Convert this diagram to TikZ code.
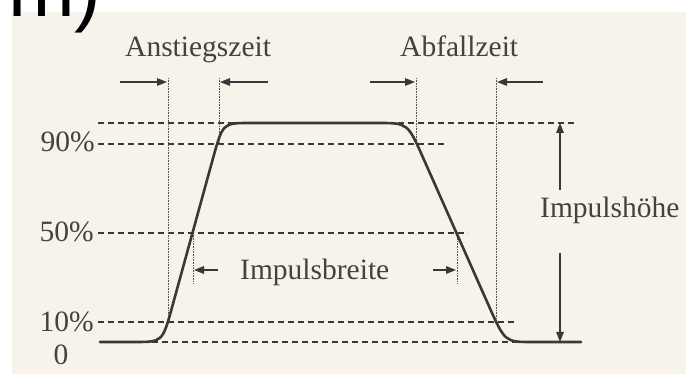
\documentclass[tikz,border=0pt]{standalone}
\usepackage{fontspec}
\setmainfont{Liberation Serif}
\newfontfamily\headfont{Liberation Sans}
\usetikzlibrary{arrows.meta}
\definecolor{paper}{HTML}{F7F3EA}
\definecolor{ink}{HTML}{383838}
\definecolor{txt}{HTML}{424242}
\begin{document}
\begin{tikzpicture}[x=1pt,y=-1pt,
  lbl/.style={inner sep=0pt, text=txt, font=\fontsize{29.5}{30}\selectfont},
  guide/.style={draw=ink, line width=1.1pt, dash pattern=on 6pt off 4pt},
  marker/.style={draw=ink!85, line width=0.8pt, dash pattern=on 0.8pt off 0.8pt},
  pulse/.style={draw=ink, line width=2.6pt, line cap=round, line join=round},
  pointer/.style={draw=ink, line width=1.4pt, -{Triangle[length=10pt,width=7.5pt]}},
]
\clip (0,0) rectangle (686,374);
\fill[white] (0,0) rectangle (686,374);
\fill[paper] (12,12) rectangle (686,374);
\node[anchor=base west, inner sep=0pt, font=\headfont\fontsize{80}{80}\selectfont] (tag) at (8,17) {m)};

% level guide lines
\coordinate (g100a) at (98,123); \coordinate (g100b) at (578,123);
\coordinate (g90a) at (98,144);  \coordinate (g90b) at (447,144);
\coordinate (g50a) at (98,233);  \coordinate (g50b) at (468,233);
\coordinate (g10a) at (98,322);  \coordinate (g10b) at (515,322);
\coordinate (g0a) at (152,342);  \coordinate (g0b) at (520,342);
\draw[guide] (g100a) -- (g100b);
\draw[guide] (g90a) -- (g90b);
\draw[guide] (g50a) -- (g50b);
\draw[guide] (g10a) -- (g10b);
\draw[guide] (g0a) -- (g0b);

% level labels
\node[lbl, anchor=base east] (p90) at (95,152) {90\%};
\node[lbl, anchor=base east] (p50) at (94,242) {50\%};
\node[lbl, anchor=base east] (p10) at (94,331) {10\%};
\node[lbl, anchor=base] (p0) at (61,364) {0};

% vertical markers
\coordinate (a1t) at (168,78); \coordinate (a1b) at (168,322);
\coordinate (a2t) at (219,78); \coordinate (a2b) at (219,144);
\coordinate (b1t) at (416,78); \coordinate (b1b) at (416,144);
\coordinate (b2t) at (496,78); \coordinate (b2b) at (496,322);
\coordinate (w1t) at (193,233); \coordinate (w1b) at (193,283);
\coordinate (w2t) at (457,233); \coordinate (w2b) at (457,283);
\draw[marker] (a1t) -- (a1b);
\draw[marker] (a2t) -- (a2b);
\draw[marker] (b1t) -- (b1b);
\draw[marker] (b2t) -- (b2b);
\draw[marker] (w1t) -- (w1b);
\draw[marker] (w2t) -- (w2b);

% pulse
\draw[pulse] (100,342) -- (135,342) .. controls (162.5,342) .. (172.4,306)
  -- (213.1,158) .. controls (222.8,123) .. (250,123) -- (378,123)
  .. controls (407.7,123) .. (423.2,158) -- (488.9,306)
  .. controls (505,342) .. (532,342) -- (581,342);

% Anstiegszeit
\node[lbl, anchor=base west] (rise) at (125,57) {Anstiegszeit};
\coordinate (r1s) at (120,82); \coordinate (r1e) at (167,82);
\coordinate (r2s) at (268,82); \coordinate (r2e) at (220,82);
\draw[pointer] (r1s) -- (r1e);
\draw[pointer] (r2s) -- (r2e);

% Abfallzeit
\node[lbl, anchor=base west] (fall) at (400,57) {Abfallzeit};
\coordinate (f1s) at (370,82); \coordinate (f1e) at (415,82);
\coordinate (f2s) at (543,82); \coordinate (f2e) at (497,82);
\draw[pointer] (f1s) -- (f1e);
\draw[pointer] (f2s) -- (f2e);

% Impulsbreite
\node[lbl, anchor=base west] (width) at (240,280) {Impulsbreite};
\coordinate (i1s) at (218,270); \coordinate (i1e) at (194,270);
\coordinate (i2s) at (433,270); \coordinate (i2e) at (456,270);
\draw[pointer] (i1s) -- (i1e);
\draw[pointer] (i2s) -- (i2e);

% Impulshoehe
\node[lbl, anchor=base west] (height) at (540,218) {Impulshöhe};
\coordinate (h1s) at (560,190); \coordinate (h1e) at (560,123);
\coordinate (h2s) at (560,253); \coordinate (h2e) at (560,342);
\draw[pointer] (h1s) -- (h1e);
\draw[pointer] (h2s) -- (h2e);
\end{tikzpicture}
\end{document}
